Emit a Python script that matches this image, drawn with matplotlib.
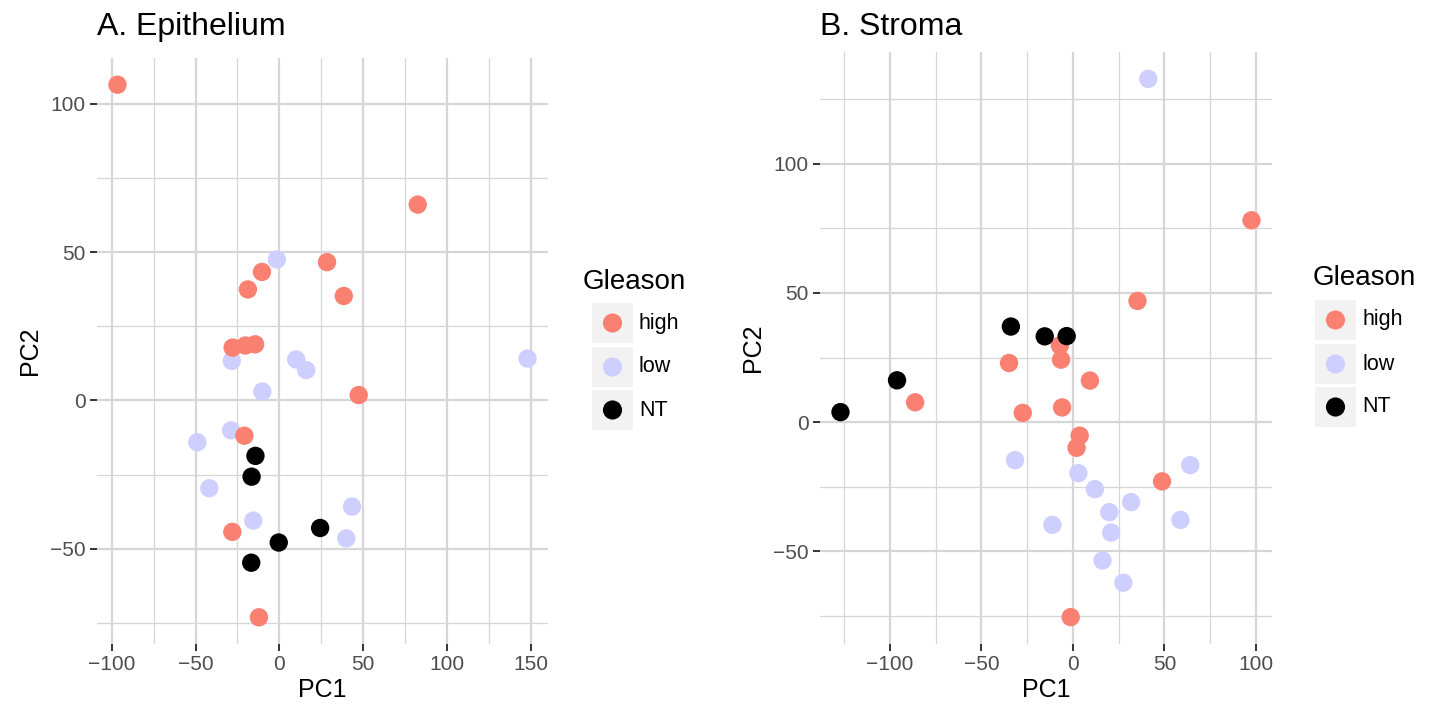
import matplotlib
matplotlib.use('Agg')
import matplotlib.pyplot as plt
from matplotlib.patches import Rectangle

plt.rcParams['font.family'] = ['Liberation Sans', 'DejaVu Sans']

W, H = 1431, 715

groups = ["high", "low", "NT"]
colors = {"high": "#FA8072", "low": "#CFCFFF", "NT": "#000000"}

# A. Epithelium (PC1, PC2)
epi_high_x = [-96.6, 82.5, 28.4, -10.4, -18.8, 38.4, -27.9, -20.3, -14.5, 47.3, -20.9, -28.1, -12.2]
epi_high_y = [106.4, 66.0, 46.6, 43.3, 37.4, 35.2, 17.8, 18.5, 18.9, 1.8, -11.9, -44.3, -73.1]
epi_low_x = [-1.5, -28.4, 10.0, 16.0, 148.0, -10.2, -28.8, -49.0, -41.8, 43.3, -15.6, 39.9]
epi_low_y = [47.5, 13.3, 13.8, 10.2, 14.1, 3.0, -10.1, -14.1, -29.6, -35.8, -40.5, -46.5]
epi_nt_x = [-14.3, -16.6, 24.3, -0.4, -16.8]
epi_nt_y = [-18.7, -25.7, -43.0, -47.9, -54.7]

# B. Stroma (PC1, PC2)
str_high_x = [97.6, 35.3, -7.1, -6.5, -34.9, 9.3, -86.2, -27.4, -5.9, 3.7, 2.0, 48.7, -1.2]
str_high_y = [78.1, 46.9, 29.7, 24.2, 22.9, 16.1, 7.7, 3.6, 5.7, -5.2, -9.9, -22.9, -75.4]
str_low_x = [41.2, -31.6, 64.1, 3.0, 12.0, 31.8, 19.9, 58.8, -11.2, 20.9, 16.2, 27.6]
str_low_y = [132.8, -14.7, -16.6, -19.7, -25.9, -30.9, -34.8, -37.8, -39.7, -42.7, -53.5, -62.1]
str_nt_x = [-33.9, -15.4, -3.4, -96.1, -127.0]
str_nt_y = [37.0, 33.2, 33.3, 16.2, 3.9]

epi_data = {"high": (epi_high_x, epi_high_y), "low": (epi_low_x, epi_low_y), "NT": (epi_nt_x, epi_nt_y)}
str_data = {"high": (str_high_x, str_high_y), "low": (str_low_x, str_low_y), "NT": (str_nt_x, str_nt_y)}

epi_xticks = [-100, -50, 0, 50, 100, 150]
epi_yticks = [-50, 0, 50, 100]
str_xticks = [-100, -50, 0, 50, 100]
str_yticks = [-50, 0, 50, 100]


def px_axes(fig, left, top, right, bottom):
    return fig.add_axes([left / W, 1 - bottom / H, (right - left) / W, (bottom - top) / H])


def style_panel(ax, data, xlim, ylim, xticks, yticks):
    ax.set_facecolor("white")
    for s in ax.spines.values():
        s.set_visible(False)
    # minor grid at midpoints of major ticks
    step = xticks[1] - xticks[0]
    xminor = [t + step / 2 for t in [xticks[0] - step] + xticks]
    step = yticks[1] - yticks[0]
    yminor = [t + step / 2 for t in [yticks[0] - step] + yticks]
    for v in xminor:
        if xlim[0] < v < xlim[1]:
            ax.axvline(v, color="#D6D6D6", lw=0.9, zorder=0)
    for v in yminor:
        if ylim[0] < v < ylim[1]:
            ax.axhline(v, color="#D6D6D6", lw=0.9, zorder=0)
    for v in xticks:
        ax.axvline(v, color="#D6D6D6", lw=1.6, zorder=0)
    for v in yticks:
        ax.axhline(v, color="#D6D6D6", lw=1.6, zorder=0)
    for g in ["low", "high", "NT"]:
        x, y = data[g]
        ax.scatter(x, y, s=175, color=colors[g], edgecolors="none", zorder=3)
    ax.set_xlim(*xlim)
    ax.set_ylim(*ylim)
    ax.set_xticks(xticks)
    ax.set_yticks(yticks)
    ax.set_xticklabels([str(t).replace("-", "\u2212") for t in xticks])
    ax.set_yticklabels([str(t).replace("-", "\u2212") for t in yticks])
    ax.tick_params(length=5, width=1.4, color="#333333", labelcolor="#4D4D4D",
                   labelsize=15, pad=3)
    ax.set_xlabel("PC1", fontsize=18, labelpad=3)
    ax.set_ylabel("PC2", fontsize=18, labelpad=6)


def draw_legend(fig, title_x, title_y, box_x, box_tops):
    lax = fig.add_axes([0, 0, 1, 1], facecolor="none")
    lax.set_xlim(0, W)
    lax.set_ylim(H, 0)
    lax.axis("off")
    lax.text(title_x, title_y, "Gleason", fontsize=20, va="center", ha="left")
    for g, top in zip(groups, box_tops):
        lax.add_patch(Rectangle((box_x, top), 41, 40, facecolor="#F2F2F2", edgecolor="none"))
        lax.scatter([box_x + 20.5], [top + 20], s=190, color=colors[g], edgecolors="none")
        lax.text(box_x + 47, top + 20, g, fontsize=15.5, va="center", ha="left")


fig = plt.figure(figsize=(W / 100, H / 100), dpi=100)

ax1 = px_axes(fig, 97, 58, 548, 644)
style_panel(ax1, epi_data, (-108.8, 160.2), (-82.1, 115.4), epi_xticks, epi_yticks)
ax1.set_title("A. Epithelium", loc="left", fontsize=23, pad=16.5)

ax2 = px_axes(fig, 820, 52, 1272, 644)
style_panel(ax2, str_data, (-138.2, 108.8), (-85.8, 143.2), str_xticks, str_yticks)
ax2.set_title("B. Stroma", loc="left", fontsize=23, pad=12.5)

draw_legend(fig, 583, 282, 592, [303, 347, 390])
draw_legend(fig, 1313, 278, 1315, [300, 344, 387])

fig.savefig("out.png", dpi=100)
